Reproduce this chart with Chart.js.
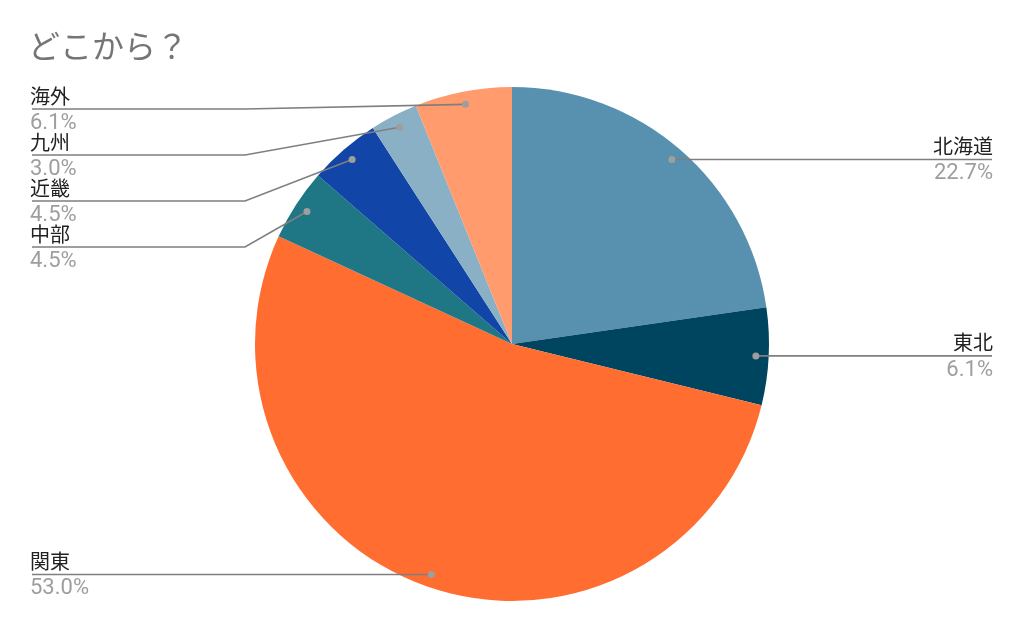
<!DOCTYPE html>
<html>
<head>
<meta charset="utf-8">
<script src="https://cdn.jsdelivr.net/npm/chart.js@4"></script>
<style>
html,body{margin:0;padding:0;background:#fff;}
#wrap{width:1024px;height:633px;position:relative;}
</style>
</head>
<body>
<div id="wrap"><canvas id="c"></canvas></div>
<script>
const title = 'どこから？';
const categories = ['北海道', '東北', '関東', '中部', '近畿', '九州', '海外'];
const values = [22.7, 6.1, 53.0, 4.5, 4.5, 3.0, 6.1];
const colors = ['#5891b0', '#00455f', '#ff6d31', '#1f7785', '#1145a8', '#8ab0c6', '#ff9b6c'];

const labelPlugin = {
  id: 'leaderLabels',
  afterDraw(chart) {
    const ctx = chart.ctx;
    const meta = chart.getDatasetMeta(0);
    // title
    ctx.save();
    ctx.fillStyle = '#757575';
    ctx.font = '32px "Noto Sans CJK JP", sans-serif';
    ctx.textBaseline = 'alphabetic';
    ctx.textAlign = 'left';
    ctx.fillText(title, 28, 58);

    const items = meta.data.map((arc, i) => {
      const p = arc.getProps(['x', 'y', 'startAngle', 'endAngle', 'outerRadius'], true);
      const mid = (p.startAngle + p.endAngle) / 2;
      const d = p.outerRadius * 0.95;
      const dx = p.x + Math.cos(mid) * d;
      const dy = p.y + Math.sin(mid) * d;
      return {i, cx: p.x, r: p.outerRadius, dx, dy, right: dx >= p.x};
    });
    const minY = 109, gap = 46;
    ['left', 'right'].forEach(side => {
      const list = items.filter(it => (side === 'right') === it.right).sort((a, b) => a.dy - b.dy);
      let prev = -Infinity;
      list.forEach(it => {
        it.ly = Math.max(it.dy, prev + gap, minY);
        prev = it.ly;
      });
    });

    items.forEach(it => {
      const r = it.r;
      const kinkX = it.right ? it.cx + r + 10 : it.cx - r - 10;
      const endX = it.right ? 992 : 32;
      ctx.strokeStyle = '#7f7f7f';
      ctx.lineWidth = 1.6;
      ctx.beginPath();
      ctx.moveTo(it.dx, it.dy);
      if (Math.abs(it.ly - it.dy) > 0.5) ctx.lineTo(kinkX, it.ly);
      ctx.lineTo(endX, it.ly);
      ctx.stroke();
      ctx.fillStyle = '#9e9e9e';
      ctx.beginPath();
      ctx.arc(it.dx, it.dy, 3.5, 0, Math.PI * 2);
      ctx.fill();

      ctx.textAlign = it.right ? 'right' : 'left';
      const tx = it.right ? 993 : 30;
      ctx.fillStyle = '#222222';
      ctx.font = '20px "Noto Sans CJK JP", sans-serif';
      ctx.textBaseline = 'ideographic';
      ctx.fillText(categories[it.i], tx, it.ly - 3);
      ctx.fillStyle = '#9e9e9e';
      ctx.font = '22px Roboto, "Noto Sans CJK JP", sans-serif';
      ctx.textBaseline = 'alphabetic';
      ctx.fillText(values[it.i].toFixed(1) + '%', tx, it.ly + 20);
    });
    ctx.restore();
  }
};

new Chart(document.getElementById('c'), {
  type: 'pie',
  data: {
    labels: categories,
    datasets: [{
      data: values,
      backgroundColor: colors,
      borderWidth: 0
    }]
  },
  options: {
    responsive: true,
    maintainAspectRatio: false,
    animation: false,
    layout: {padding: {top: 87, bottom: 32, left: 0, right: 0}},
    plugins: {
      legend: {display: false},
      tooltip: {enabled: false},
      title: {display: false}
    }
  },
  plugins: [labelPlugin]
});
</script>
</body>
</html>
